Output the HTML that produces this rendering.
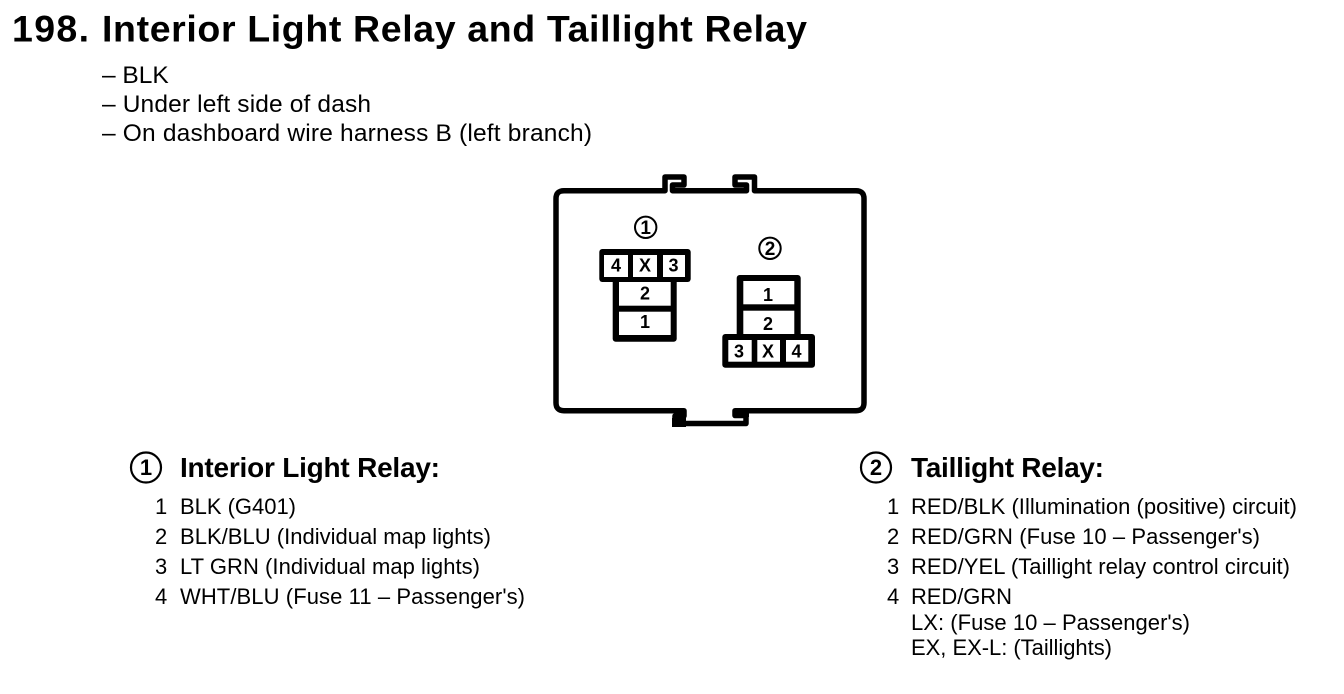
<!DOCTYPE html>
<html><head><meta charset="utf-8"><style>
html,body{margin:0;padding:0;background:#fff;width:1344px;height:694px;overflow:hidden}
svg{display:block}
text{font-family:"Liberation Sans",Arial,sans-serif;fill:#000}
.t{font-size:37.500px;font-weight:bold}
.s{font-size:24.500px}
.h{font-size:28px;font-weight:bold}
.l{font-size:22px}
.c{font-size:18px;font-weight:bold;text-anchor:middle}
.k{font-size:19px;font-weight:bold;text-anchor:middle}
.n{font-size:22px;font-weight:bold;text-anchor:middle}
</style></head><body>
<svg width="1344" height="694" viewBox="0 0 1344 694" xmlns="http://www.w3.org/2000/svg">
<rect width="1344" height="694" fill="#fff"/>
<text class="t" x="12" y="41.500" textLength="77" lengthAdjust="spacing">198.</text>
<text class="t" x="102" y="41.500" textLength="705" lengthAdjust="spacing">Interior Light Relay and Taillight Relay</text>
<text class="s" x="102" y="83">– BLK</text>
<text class="s" x="102" y="112" textLength="269" lengthAdjust="spacing">– Under left side of dash</text>
<text class="s" x="102" y="141" textLength="490" lengthAdjust="spacing">– On dashboard wire harness B (left branch)</text>

<path d="M665 190.700V177H684V185H672.500V190.700H746.500V185H735V177H754.500V190.700H856Q864 190.700 864 198.700V402.700Q864 410.700 856 410.700H735V415.500H746V423.500H675V416H684V410.700H564Q556 410.700 556 402.700V198.700Q556 190.700 564 190.700Z" fill="none" stroke="#000" stroke-width="5.500" stroke-linejoin="round"/>
<rect x="672" y="418" width="14" height="9" fill="#000"/>
<rect x="733" y="410" width="16" height="7" fill="#000"/>

<circle cx="645.700" cy="227.300" r="10.700" fill="#fff" stroke="#000" stroke-width="2"/>
<text class="k" x="645.700" y="234">1</text>
<rect x="612.700" y="275" width="64" height="66.700" rx="3" fill="#000"/>
<rect x="599.300" y="249" width="91.400" height="33" rx="3" fill="#000"/>
<rect x="604" y="255" width="24" height="22" fill="#fff"/>
<rect x="633" y="255" width="24" height="22" fill="#fff"/>
<rect x="663" y="255" width="22" height="22" fill="#fff"/>
<rect x="619" y="282" width="51.700" height="23.700" fill="#fff"/>
<rect x="619" y="311.700" width="51.700" height="23.300" fill="#fff"/>
<text class="c" x="616" y="271.500">4</text>
<text class="c" x="645" y="271.500">X</text>
<text class="c" x="673.500" y="271.500">3</text>
<text class="c" x="645" y="299.500">2</text>
<text class="c" x="645" y="328">1</text>

<circle cx="770" cy="248.300" r="10.700" fill="#fff" stroke="#000" stroke-width="2"/>
<text class="k" x="770" y="255">2</text>
<rect x="736.700" y="275" width="64" height="66" rx="3" fill="#000"/>
<rect x="722.300" y="334" width="92.700" height="33.700" rx="3" fill="#000"/>
<rect x="743.300" y="281" width="51" height="23.300" fill="#fff"/>
<rect x="743.300" y="310.700" width="51" height="23.300" fill="#fff"/>
<rect x="728.300" y="340" width="23.400" height="21.700" fill="#fff"/>
<rect x="757.300" y="340" width="22.700" height="21.700" fill="#fff"/>
<rect x="786" y="340" width="22.300" height="21.700" fill="#fff"/>
<text class="c" x="768" y="301">1</text>
<text class="c" x="768" y="330">2</text>
<text class="c" x="739" y="357.500">3</text>
<text class="c" x="768" y="357.500">X</text>
<text class="c" x="796.500" y="357.500">4</text>

<circle cx="146" cy="467.500" r="15" fill="#fff" stroke="#000" stroke-width="2.200"/>
<text class="n" x="146" y="475">1</text>
<text class="h" x="180" y="477" textLength="260" lengthAdjust="spacing">Interior Light Relay:</text>
<text class="l" x="155" y="514">1</text>
<text class="l" x="180" y="514" textLength="116" lengthAdjust="spacing">BLK (G401)</text>
<text class="l" x="155" y="544">2</text>
<text class="l" x="180" y="544" textLength="311" lengthAdjust="spacing">BLK/BLU (Individual map lights)</text>
<text class="l" x="155" y="574">3</text>
<text class="l" x="180" y="574" textLength="300" lengthAdjust="spacing">LT GRN (Individual map lights)</text>
<text class="l" x="155" y="604">4</text>
<text class="l" x="180" y="604" textLength="345" lengthAdjust="spacing">WHT/BLU (Fuse 11 – Passenger's)</text>

<circle cx="876" cy="467.500" r="15" fill="#fff" stroke="#000" stroke-width="2.200"/>
<text class="n" x="876" y="475">2</text>
<text class="h" x="911" y="477" textLength="193" lengthAdjust="spacing">Taillight Relay:</text>
<text class="l" x="887" y="514">1</text>
<text class="l" x="911" y="514" textLength="386" lengthAdjust="spacing">RED/BLK (Illumination (positive) circuit)</text>
<text class="l" x="887" y="544">2</text>
<text class="l" x="911" y="544" textLength="349" lengthAdjust="spacing">RED/GRN (Fuse 10 – Passenger's)</text>
<text class="l" x="887" y="574">3</text>
<text class="l" x="911" y="574" textLength="379" lengthAdjust="spacing">RED/YEL (Taillight relay control circuit)</text>
<text class="l" x="887" y="604">4</text>
<text class="l" x="911" y="604" textLength="101" lengthAdjust="spacing">RED/GRN</text>
<text class="l" x="911" y="630" textLength="279" lengthAdjust="spacing">LX: (Fuse 10 – Passenger's)</text>
<text class="l" x="911" y="655" textLength="201" lengthAdjust="spacing">EX, EX-L: (Taillights)</text>
</svg>
</body></html>
